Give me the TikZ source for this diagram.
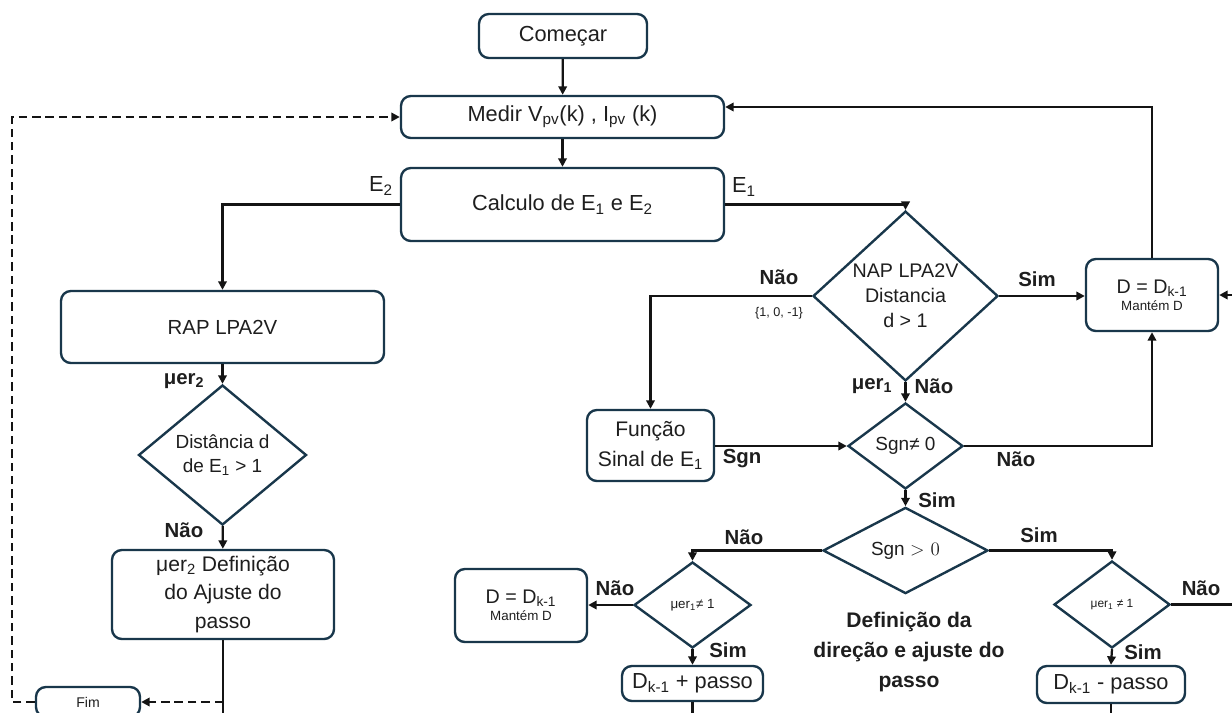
\documentclass[tikz,border=0pt]{standalone}
\usepackage{fontspec}
\setmainfont{Liberation Sans}
\usetikzlibrary{shapes.geometric,arrows.meta}

\definecolor{boxline}{RGB}{25,55,75}
\definecolor{wirecol}{RGB}{20,20,20}
\definecolor{ink}{RGB}{30,30,30}

\newcommand\fsz[2]{\fontsize{#1}{#2}\selectfont}
\newcommand\sbs[1]{\textsubscript{#1}}

\begin{document}
\begin{tikzpicture}[x=0.025cm,y=-0.025cm,
  every node/.style={text=ink},
  blk/.style 2 args={draw=boxline, line width=1.7pt, rounded corners=7pt,
    minimum width=#1*0.025cm, minimum height=#2*0.025cm, inner sep=0pt,
    align=center, font=\fsz{15.5}{18}},
  dia/.style 2 args={draw=boxline, line width=1.7pt, shape=diamond,
    minimum width=#1*0.025cm, minimum height=#2*0.025cm, inner sep=0pt,
    align=center, font=\fsz{13.5}{17.5}},
  flow/.style={draw=wirecol, line width=1.6pt, -{Triangle[length=6pt,width=6pt]}},
  wire/.style={draw=wirecol, line width=1.6pt},
  loopback/.style={draw=wirecol, line width=1.6pt, dash pattern=on 6pt off 3.5pt,
    -{Triangle[length=6pt,width=6pt]}},
  lbl/.style={font=\bfseries\fsz{14.5}{16}, inner sep=0pt},
  elbl/.style={font=\fsz{15.5}{18}, inner sep=0pt},
]
\useasboundingbox (0,0) rectangle (1232,712);
\clip (0,0) rectangle (1232,712);

% ---- main column ----
\node[blk={168}{44}] (start) at (563,36) {Começar};
\node[blk={323}{42}] (measure) at (562.5,117) {Medir V\sbs{pv}(k) , I\sbs{pv} (k)};
\node[blk={323}{73}] (calc) at (562.5,204.5) {Calculo de E\sbs{1} e E\sbs{2}};

% ---- left branch (E2) ----
\node[blk={323}{72}, font=\fsz{14.5}{18}] (rap) at (222.5,327) {RAP LPA2V};
\node[dia={168}{140}] (dist2) at (222.5,455) {Distância d\\de E\sbs{1} > 1};
\node[blk={222}{89}, font=\fsz{15}{20.5}] (adj) at (223,594.5) {μer\sbs{2} Definição\\do Ajuste do\\passo};
\node[blk={104}{30}, font=\fsz{10}{12}] (fim) at (88,702) {Fim};

% ---- right branch (E1) ----
\node[dia={185}{151}, font=\fsz{14}{17.8}] (nap) at (905.5,296) {NAP LPA2V\\Distancia\\d > 1};
\node[blk={132}{72}, font=\fsz{14}{16}] (dright) at (1152,295)
  {D = D\sbs{k-1}\\[-4pt]{\fsz{9.5}{11}Mantém D}};
\node[blk={127}{71}, font=\fsz{15}{21}] (func) at (650.5,445.5) {Função\\Sinal de E\sbs{1}};
\node[dia={115}{86}] (sgnz) at (905.5,446) {Sgn≠ 0};
\node[dia={165}{85}] (sgnp) at (905.5,550.5) {Sgn {\fontfamily{lmr}\selectfont > 0}};
\node[dia={117}{86}, font=\fsz{9.5}{11}] (mul) at (692.5,605) {μer\sbs{1}≠ 1};
\node[blk={132}{73}, font=\fsz{14}{16}] (dleft) at (521,605.5)
  {D = D\sbs{k-1}\\[-4pt]{\fsz{9.5}{11}Mantém D}};
\node[blk={141}{35}] (plus) at (692.5,683.5) {D\sbs{k-1} + passo};
\node[dia={116}{87}, font=\fsz{8.5}{10}] (mur) at (1112,604.5) {μer\sbs{1} ≠ 1};
\node[blk={148}{37}] (minus) at (1111,684.5) {D\sbs{k-1} - passo};

\node[font=\bfseries\fsz{15}{21.3}, align=center, inner sep=0pt] (caption) at (909,652)
  {Definição da\\direção e ajuste do\\passo};

% ---- helper points ----
\coordinate (topret) at (1152,107);
\coordinate (loopx) at (12,0);
\coordinate (edge) at (1240,0);
\coordinate (bottom) at (0,724);

% ---- connectors ----
\draw[flow] (start) -- (measure);
\draw[flow] (measure) -- (calc);
\draw[flow] (calc.west) -| (rap.north);
\draw[flow] (calc.east) -| (nap.north);
\draw[flow] (rap) -- (dist2);
\draw[flow] (dist2) -- (adj);
\draw[wire] (adj.south) -- (adj.south |- bottom);
\draw[loopback] (adj.south |- fim.east) -- (fim.east);
\draw[loopback] (fim.west) -- (fim.west -| loopx) -- (loopx |- measure.west) -- (measure.west);

\draw[flow] (nap.east) -- (nap.east -| dright.west);
\draw[flow] (dright.north) -- (topret) -- (topret -| measure.east);
\draw[flow] (edge |- dright.east) -- (dright.east);
\draw[flow] (nap.west) -| (func.north);
\draw[flow] (func.east |- sgnz.west) -- (sgnz.west);
\draw[flow] (nap.south) -- (sgnz.north);
\draw[flow] (sgnz.east) -| (dright.south);
\draw[flow] (sgnz.south) -- (sgnp.north);
\draw[flow] (sgnp.east) -| (mur.north);
\draw[flow] (sgnp.west) -| (mul.north);
\draw[flow] (mul.west) -- (mul.west -| dleft.east);
\draw[flow] (mul.south) -- (plus.north);
\draw[flow] (plus.south) -- ++(0,34);
\draw[wire] (mur.east) -- (mur.east -| edge);
\draw[flow] (mur.south) -- (minus.north);
\draw[wire] (minus.south) -- (minus.south |- bottom);

% ---- connector labels ----
\node[elbl] at (381,186) {E\sbs{2}};
\node[elbl] at (744,187) {E\sbs{1}};
\node[lbl] at (184,381) {μer\sbs{2}};
\node[lbl] at (184,530) {Não};
\node[lbl] at (1037,279) {Sim};
\node[lbl] at (779,277) {Não};
\node[font=\fsz{9}{11}, inner sep=0pt] at (779,313) {\{1, 0, -1\}};
\node[lbl] at (742,459) {Sgn};
\node[lbl] at (872,386) {μer\sbs{1}};
\node[lbl] at (934,386) {Não};
\node[lbl] at (1016,459) {Não};
\node[lbl] at (937,500) {Sim};
\node[lbl] at (1039,535) {Sim};
\node[lbl] at (744,537) {Não};
\node[lbl] at (615,588) {Não};
\node[lbl] at (728,650) {Sim};
\node[lbl] at (1201,588) {Não};
\node[lbl] at (1143,652) {Sim};
\end{tikzpicture}
\end{document}
